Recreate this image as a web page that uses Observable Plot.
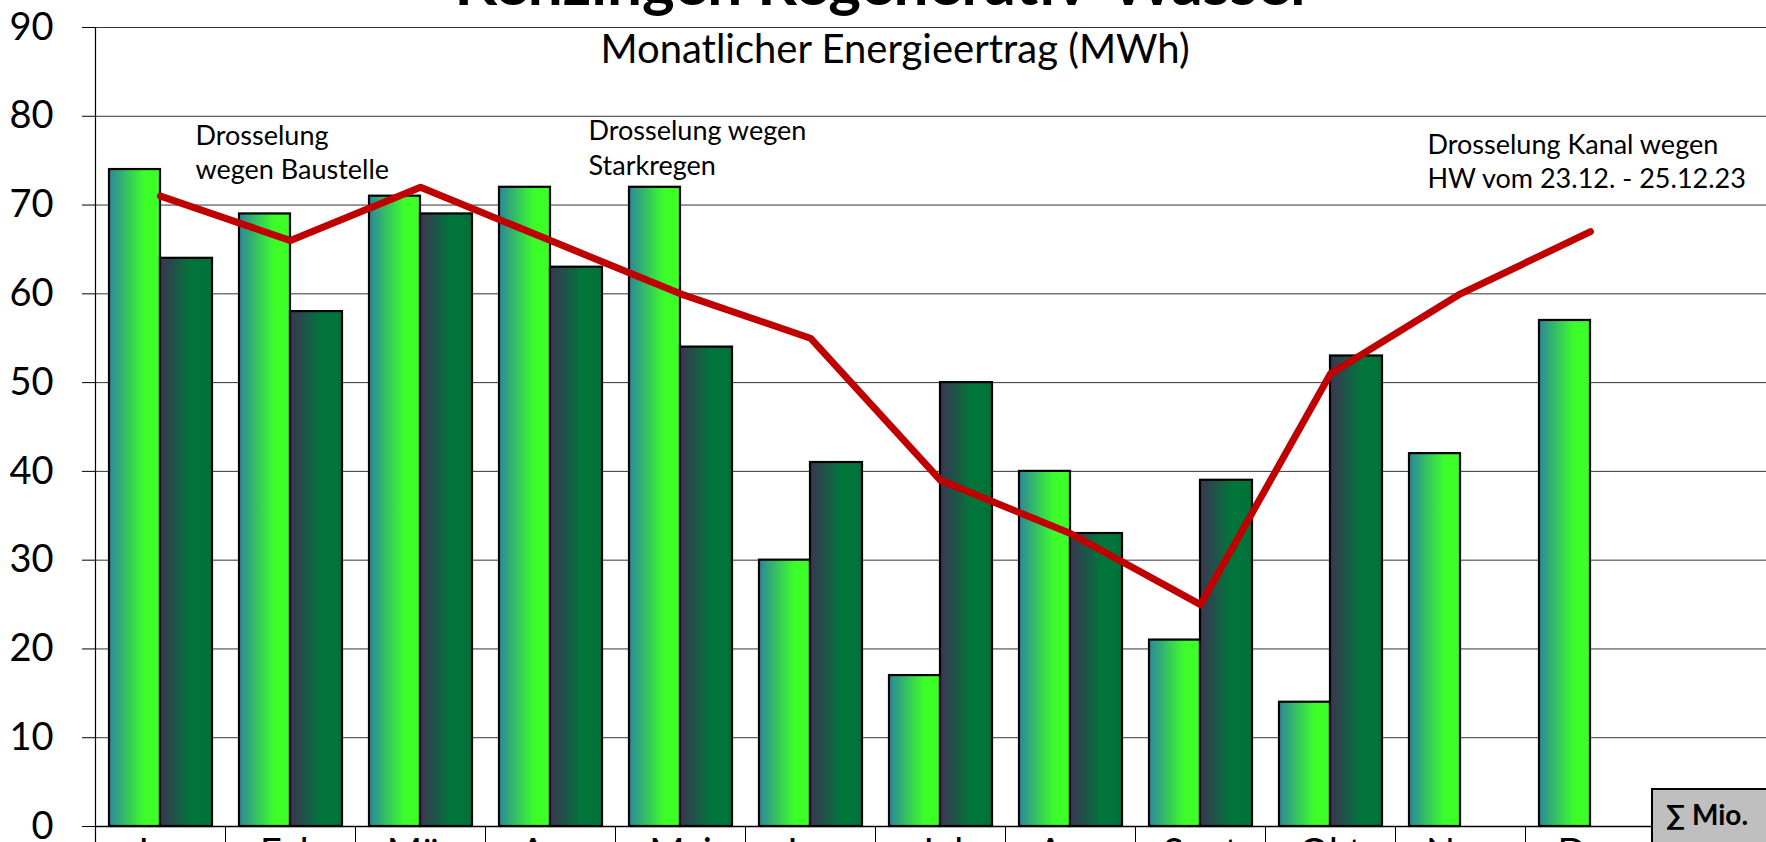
<!DOCTYPE html>
<html>
<head>
<meta charset="utf-8">
<script src="https://cdn.jsdelivr.net/npm/d3@7"></script>
<script src="https://cdn.jsdelivr.net/npm/@observablehq/plot@0.6"></script>
<style>
  html, body { margin: 0; padding: 0; background: #fff; overflow: hidden; }
  #wrap { position: relative; width: 1766px; height: 842px; overflow: hidden; font-family: Lato, "Open Sans", sans-serif; }
  #title { position: absolute; left: 884px; transform: translateX(-50%); top: -50px; font-weight: 700; font-size: 62px; line-height: 62px; color: #000; z-index: 2; white-space: nowrap; }
  #subtitle { position: absolute; left: 895px; transform: translateX(-50%); top: 28px; font-size: 40px; line-height: 40px; color: #000; white-space: nowrap; z-index: 2; }
  #sumbox { position: absolute; left: 1651px; top: 788px; width: 140px; height: 80px; background: #bfbfbf; border: 2px solid #000; box-sizing: border-box; font-weight: 700; font-size: 28px; line-height: 28px; padding-left: 13px; padding-top: 10px; z-index: 2; white-space: nowrap; }
  #chart { position: absolute; left: 0; top: 0; }
</style>
</head>
<body>
<div id="wrap">
  <div id="chart"></div>
  <div id="title"></div>
  <div id="subtitle"></div>
  <div id="sumbox"></div>
</div>
<script>
// ---- data ----
const months = ["Jan", "Feb", "Mär", "Apr", "Mai", "Jun", "Jul", "Aug", "Sept", "Okt", "Nov", "Dez"];
const sumLabel = "∑ Mio.";
const serieHell = [74, 69, 71, 72, 72, 30, 17, 40, 21, 14, 42, 57];
const serieDunkel = [64, 58, 69, 63, 54, 41, 50, 33, 39, 53, null, null];
const mittelLinie = [71, 66, 72, 66, 60, 55, 39, 33, 25, 51, 60, 67];
const yTicks = [0, 10, 20, 30, 40, 50, 60, 70, 80, 90];
const noteMonths = ["Feb", "Mai", "Dez"];
const noteValues = [76.1, 76.6, 75.1];
const noteTexts = [
  "Drosselung\nwegen Baustelle",
  "Drosselung wegen\nStarkregen",
  "Drosselung Kanal wegen\nHW vom 23.12. - 25.12.23"
];
const titleText = "Kenzingen Regenerativ-Wasser";
const subtitleText = "Monatlicher Energieertrag (MWh)";

// ---- tables built from the arrays ----
const dataHell = months.map((m, i) => ({month: m, value: serieHell[i]}));
const dataDunkel = months.map((m, i) => ({month: m, value: serieDunkel[i]})).filter(d => d.value != null);
const dataLinie = months.map((m, i) => ({month: m, value: mittelLinie[i]}));
const notes = noteMonths.map((m, i) => ({month: m, value: noteValues[i], text: noteTexts[i]}));
const categories = [...months, sumLabel];

document.getElementById("title").textContent = titleText;
document.getElementById("subtitle").textContent = subtitleText;
document.getElementById("sumbox").textContent = sumLabel;

// ---- layout ----
const W = 1766, H = 900;
const left = 95, step = 130;

const gradients = () => {
  const defs = d3.create("svg:defs");
  const g1 = defs.append("linearGradient").attr("id", "gHell").attr("x1", 0).attr("x2", 1).attr("y1", 0).attr("y2", 0);
  g1.append("stop").attr("offset", 0).attr("stop-color", "#2c8799");
  g1.append("stop").attr("offset", 0.7).attr("stop-color", "#3cff28");
  g1.append("stop").attr("offset", 1).attr("stop-color", "#3cff28");
  const g2 = defs.append("linearGradient").attr("id", "gDunkel").attr("x1", 0).attr("x2", 1).attr("y1", 0).attr("y2", 0);
  g2.append("stop").attr("offset", 0).attr("stop-color", "#3c3453");
  g2.append("stop").attr("offset", 0.6).attr("stop-color", "#00763a");
  g2.append("stop").attr("offset", 1).attr("stop-color", "#00723a");
  return defs.node();
};

const noteMark = (i, dx) => Plot.text([notes[i]], {
  x: "month", y: "value", text: "text", dx,
  textAnchor: "start", lineAnchor: "middle", lineHeight: 1.27,
  fontSize: 27, fill: "#000"
});

const chart = Plot.plot({
  width: W,
  height: H,
  marginLeft: left,
  marginRight: 0,
  marginTop: 27,
  marginBottom: 74,
  x: {type: "band", domain: categories, range: [left, left + categories.length * step], padding: 0},
  y: {domain: [0, 90]},
  style: {fontFamily: "Lato, 'Open Sans', sans-serif", background: "#fff", color: "#000"},
  marks: [
    gradients,
    Plot.gridY(yTicks, {stroke: "#000", strokeOpacity: 0.8, strokeWidth: 1}),
    Plot.ruleY([0], {stroke: "#000", strokeWidth: 1.5}),
    Plot.barY(dataHell, {x: "month", y: "value", fill: "url(#gHell)", stroke: "#000", strokeWidth: 2.2, insetLeft: 14, insetRight: 65}),
    Plot.barY(dataDunkel, {x: "month", y: "value", fill: "url(#gDunkel)", stroke: "#000", strokeWidth: 2.2, insetLeft: 65, insetRight: 13}),
    Plot.line(dataLinie, {x: "month", y: "value", stroke: "#c00000", strokeWidth: 7, strokeLinecap: "round", strokeLinejoin: "round"}),
    Plot.ruleX(categories, {x: d => d, dx: -step / 2, y1: 0, y2: -6, stroke: "#000", strokeWidth: 1}),
    Plot.ruleX([months[0]], {x: d => d, dx: -step / 2, y1: -6, y2: 90, stroke: "#000", strokeWidth: 1.2}),
    Plot.axisY(yTicks, {tickSize: 13, tickPadding: 29, fontSize: 38, stroke: "#000", label: null}),
    Plot.axisX(months, {tickSize: 0, tickPadding: 13, fontSize: 38, label: null}),
    noteMark(0, -95),
    noteMark(1, -92),
    noteMark(2, -163)
  ]
});
document.getElementById("chart").appendChild(chart);
</script>
</body>
</html>
